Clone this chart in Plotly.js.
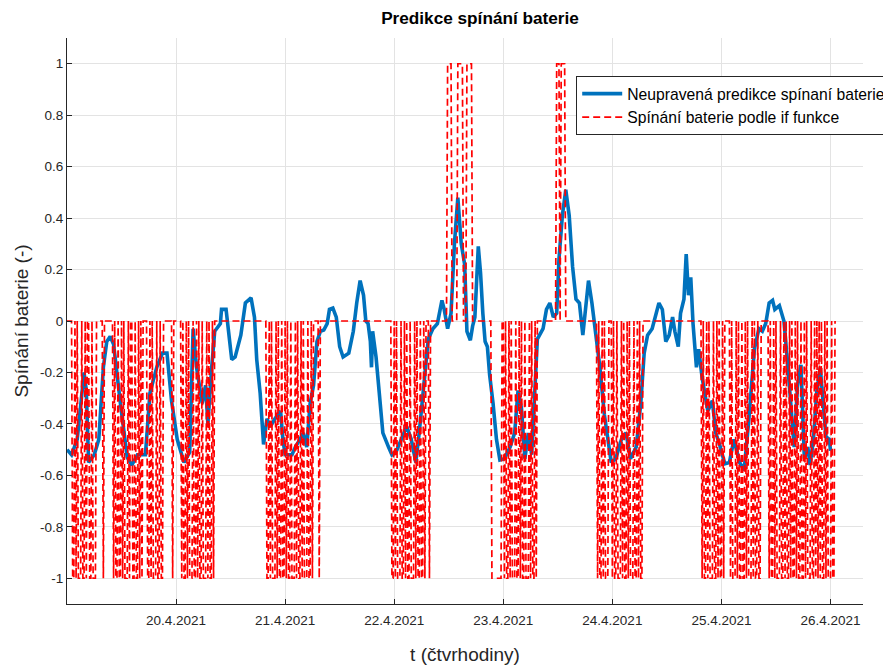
<!DOCTYPE html>
<html>
<head>
<meta charset="utf-8">
<script src="https://cdn.plot.ly/plotly-3.0.1.min.js"></script>
<style>html,body{margin:0;padding:0;background:#fff;}</style>
</head>
<body>
<div id="chart" style="width:883px;height:668px;"></div>
<script>
// Day ticks on the time axis
const dayTicks = ['2021-04-20', '2021-04-21', '2021-04-22', '2021-04-23', '2021-04-24', '2021-04-25', '2021-04-26'];
const dayTickText = ['20.4.2021', '21.4.2021', '22.4.2021', '23.4.2021', '24.4.2021', '25.4.2021', '26.4.2021'];

// Value ticks
const yTickVals = [-1, -0.8, -0.6, -0.4, -0.2, 0, 0.2, 0.4, 0.6, 0.8, 1];
const yTickText = ['-1', '-0.8', '-0.6', '-0.4', '-0.2', '0', '0.2', '0.4', '0.6', '0.8', '1'];

// Battery switching from the if-rule, one character per quarter hour
// ('0' = idle, 'n' = -1, 'p' = +1), one string per day starting 19.4.2021 00:00
const switchDays = [
  '00000nn0n0nnn0nn0n00nn0nnn000000n00000000n0nn0nn0n0nnn0n00nn0nn0n0n0000nn0n0nnn0nn0nn00000000n00',
  '00000n0nn0n0nnn0nn0n0nn0nnn0n0nn0n0000000000000000000000000000000000000000000000nn0n0nnn0n0nn0nn',
  '0n0nn0nnn0n0nn0n0nnn0nn0n00000n000000000000000000000000000000000000000000000000000000000000000nn',
  '0n0nnn0nn0n0nn0nnn0n0nn0nn0n000n000000000000000pppp00000ppppp000ppppp00000000000000000nnnnnnnnn0',
  '0n0nn0n0nnn0nn0n0nn0nnn0n0nn0n00000000000000000ppp0pppp0000000000000000000000000000n0nn0n0nnn000',
  'n0nn0nnn0n0nn0n0nnn0nn0n0nn0000000000000000000000000000000000000000000000000000n0nn0n0nnn0nn0n0nn0n',
  '00000n0nnn0n0nn0nn0n0nnn0n0nn0nn0000000n0nn0n0nnn0nn0n0nn0n0nn0n0nn0nn0n0nnn0nn0n0n0n0nn0n0nnn0nn',
  '0'
];

// Unadjusted prediction of battery switching (time 'DD HH:MM' in April 2021, value)
const predTime = [
  '19 00:00','19 01:00','19 02:15','19 03:45','19 04:15','19 04:45','19 06:00','19 07:00','19 08:00','19 08:45',
  '19 09:30','19 10:15','19 11:45','19 13:15','19 14:15','19 15:30','19 17:15','19 18:15','19 19:45','19 21:00',
  '19 22:00','19 23:00',
  '20 00:15','20 01:45','20 03:00','20 03:45','20 04:30','20 05:45','20 06:30','20 07:00','20 07:45','20 08:30',
  '20 09:45','20 10:00','20 11:00','20 11:30','20 12:15','20 13:00','20 13:45','20 14:15','20 15:15','20 16:00',
  '20 16:30','20 17:15','20 17:45','20 18:30','20 19:15','20 20:00','20 20:45','20 21:45','20 23:00','20 23:30',
  '21 00:00','21 01:30','21 02:15','21 03:15','21 04:00','21 04:45','21 05:30','21 06:15','21 07:00','21 07:45',
  '21 08:30','21 09:15','21 09:45','21 10:30','21 11:15','21 12:00','21 12:45','21 14:00','21 15:00','21 15:45',
  '21 16:30','21 17:15','21 17:45','21 18:15','21 18:45','21 19:00','21 19:15','21 20:00','21 20:45','21 21:30',
  '21 22:45','21 23:30',
  '22 00:30','22 01:30','22 02:45','22 03:45','22 04:45','22 05:30','22 06:45','22 07:30','22 08:30','22 09:30',
  '22 10:30','22 11:00','22 11:45','22 12:30','22 13:15','22 14:00','22 14:45','22 15:30','22 16:00','22 16:45',
  '22 17:15','22 17:45','22 18:30','22 19:00','22 19:30','22 20:00','22 20:30','22 21:00','22 21:45','22 22:30',
  '22 23:15',
  '23 00:15','23 01:30','23 02:30','23 03:15','23 04:00','23 04:45','23 05:30','23 06:15','23 07:00','23 07:30',
  '23 08:45','23 09:30','23 10:15','23 11:00','23 11:45','23 12:15','23 13:00','23 13:45','23 14:30','23 15:15',
  '23 16:00','23 16:45','23 17:30','23 18:15','23 18:45','23 19:30','23 20:15','23 21:15','23 22:15','23 23:15',
  '23 23:45',
  '24 00:45','24 02:00','24 03:00','24 04:00','24 05:15','24 06:15','24 07:00','24 07:45','24 08:45','24 09:30',
  '24 10:15','24 11:00','24 11:45','24 12:30','24 13:15','24 13:45','24 14:30','24 15:00','24 15:45','24 16:15',
  '24 16:45','24 17:15','24 17:45','24 18:30','24 19:00','24 19:45','24 21:00','24 22:00','24 22:45','24 23:45',
  '25 00:45','25 01:45','25 02:45','25 04:00','25 05:00','25 06:00','25 07:15','25 08:15','25 09:00','25 09:45',
  '25 10:30','25 11:15','25 11:45','25 12:45','25 13:45','25 14:30','25 15:15','25 16:00','25 16:45','25 17:30',
  '25 18:15','25 19:00','25 19:30','25 20:15','25 21:00','25 21:45','25 22:15','25 23:00','25 23:45','26 00:00'
];
const predValue = [
  -0.50,-0.52,-0.46,-0.20,-0.27,-0.55,-0.52,-0.46,-0.18,-0.08,
  -0.06,-0.09,-0.32,-0.53,-0.56,-0.52,-0.52,-0.28,-0.18,-0.125,
  -0.125,-0.31,
  -0.46,-0.55,-0.51,-0.03,-0.18,-0.32,-0.25,-0.40,-0.20,-0.04,
  -0.01,0.045,0.045,-0.03,-0.15,-0.14,-0.08,-0.055,0.07,0.08,
  0.09,0.015,-0.15,-0.28,-0.48,-0.38,-0.41,-0.38,-0.35,-0.46,
  -0.52,-0.52,-0.49,-0.46,-0.435,-0.49,-0.32,-0.25,-0.08,-0.04,
  -0.035,-0.01,0.045,0.05,0.015,-0.10,-0.14,-0.125,-0.04,0.07,
  0.157,0.10,0.00,-0.01,-0.08,-0.18,-0.04,-0.14,-0.31,-0.435,
  -0.49,-0.52,
  -0.505,-0.46,-0.41,-0.46,-0.55,-0.435,-0.21,-0.07,-0.03,-0.01,
  0.08,0.045,-0.03,0.03,0.30,0.48,0.30,0.22,-0.04,-0.075,
  -0.02,0.015,0.29,0.185,0.03,-0.08,-0.10,-0.21,-0.32,-0.46,
  -0.54,
  -0.535,-0.49,-0.435,-0.27,-0.34,-0.535,-0.435,-0.52,-0.28,-0.07,
  -0.03,0.045,0.07,0.015,0.03,0.24,0.41,0.51,0.41,0.21,
  0.085,0.07,-0.055,0.07,0.157,0.07,-0.04,-0.18,-0.365,-0.49,
  -0.55,
  -0.535,-0.46,-0.435,-0.535,-0.49,-0.32,-0.125,-0.055,-0.03,0.015,
  0.07,0.045,-0.08,-0.055,0.015,-0.04,-0.10,0.03,0.085,0.26,
  0.10,0.17,-0.01,-0.18,-0.11,-0.22,-0.35,-0.31,-0.435,-0.49,
  -0.555,-0.55,-0.46,-0.55,-0.58,-0.39,-0.11,-0.03,-0.04,-0.01,
  0.07,0.08,0.045,0.06,0.00,-0.15,-0.32,-0.49,-0.25,-0.17,
  -0.535,-0.49,-0.56,-0.46,-0.27,-0.18,-0.29,-0.45,-0.46,-0.505
];

// Build the quarter-hour time stamps for the switching series
function stamp(ms) {
  return new Date(ms).toISOString().slice(0, 16).replace('T', ' ');
}
const startMs = Date.UTC(2021, 3, 19, 0, 0);
const switchCodes = switchDays.join('');
const switchX = [];
const switchY = [];
const codeValue = { '0': 0, 'n': -1, 'p': 1 };
for (let i = 0; i < switchCodes.length; i++) {
  switchX.push(stamp(startMs + i * 15 * 60000));
  switchY.push(codeValue[switchCodes[i]]);
}
const predX = predTime.map(t => '2021-04-' + t);

const font = 'Liberation Sans, Arial, Helvetica, sans-serif';
const ink = '#262626';

const traces = [
  {
    x: predX, y: predValue, type: 'scatter', mode: 'lines',
    name: 'Neupravená predikce spínaní baterie',
    line: { color: '#0072BD', width: 3.6 }
  },
  {
    x: switchX, y: switchY, type: 'scatter', mode: 'lines',
    name: 'Spínání baterie podle if funkce',
    line: { color: '#FF0000', width: 1.7, dash: '7px,4px' }
  }
];

const layout = {
  width: 883, height: 668,
  margin: { l: 67, r: 20, t: 38, b: 64, autoexpand: false },
  paper_bgcolor: '#ffffff', plot_bgcolor: '#ffffff',
  font: { family: font, color: ink, size: 13.5 },
  title: {
    text: '<b>Predikce spínání baterie</b>',
    font: { family: font, size: 17.2, color: '#000000' },
    x: 480 / 883, xref: 'container', xanchor: 'center',
    y: 1 - 18 / 668, yref: 'container', yanchor: 'middle'
  },
  xaxis: {
    type: 'date',
    range: ['2021-04-19 00:00', '2021-04-26 07:09'],
    tickmode: 'array', tickvals: dayTicks, ticktext: dayTickText,
    ticks: 'inside', ticklen: 5, tickwidth: 1, tickcolor: ink,
    showline: true, linecolor: ink, linewidth: 1, mirror: false,
    showgrid: true, gridcolor: '#e3e3e3', gridwidth: 1,
    zeroline: false, automargin: false,
    ticklabelstandoff: 4,
    tickfont: { family: font, size: 13.5, color: ink },
    title: { text: 't (čtvrhodiny)', font: { family: font, size: 19, color: ink }, standoff: 20 }
  },
  yaxis: {
    range: [-1.1, 1.1],
    tickmode: 'array', tickvals: yTickVals, ticktext: yTickText,
    ticks: 'inside', ticklen: 5, tickwidth: 1, tickcolor: ink,
    showline: true, linecolor: ink, linewidth: 1, mirror: false,
    showgrid: true, gridcolor: '#e3e3e3', gridwidth: 1,
    zeroline: false, automargin: false,
    tickfont: { family: font, size: 13.5, color: ink },
    title: { text: 'Spínání baterie (-)', font: { family: font, size: 19, color: ink }, standoff: 6 }
  },
  showlegend: true,
  legend: {
    x: 0.6397, y: 0.933, xanchor: 'left', yanchor: 'top',
    bgcolor: '#ffffff', bordercolor: ink, borderwidth: 1,
    font: { family: font, size: 15.7, color: '#000000' },
    tracegroupgap: 0, itemwidth: 40
  }
};

Plotly.newPlot('chart', traces, layout, { displayModeBar: false, staticPlot: true });
</script>
</body>
</html>
